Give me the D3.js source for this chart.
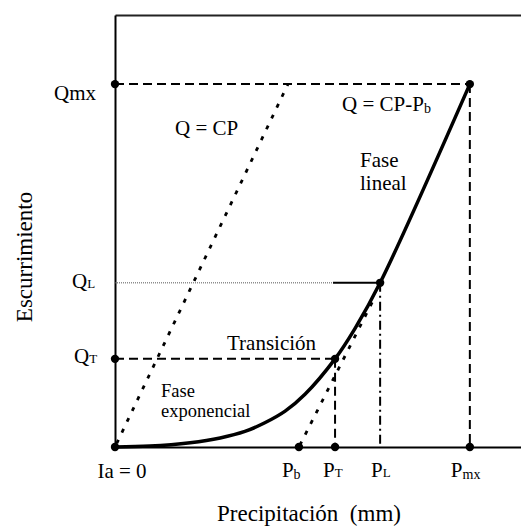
<!DOCTYPE html>
<html>
<head>
<meta charset="utf-8">
<script src="https://cdn.jsdelivr.net/npm/d3@7"></script>
<style>
body { margin: 0; background: #fff; }
svg text { font-family: "Liberation Serif", "Times New Roman", "DejaVu Serif", serif; fill: #000; }
</style>
</head>
<body>
<svg width="521" height="529" font-family="Liberation Serif, Times New Roman, DejaVu Serif, serif"></svg>
<script>
const svg = d3.select('svg');

// values in chart units: P (precipitation) on x, Q (runoff) on y
const pMain = ['P', 'P', 'P', 'P'];
const pSub = ['b', 'T', 'L', 'mx'];
const pValues = [45.3, 54.2, 65.3, 87.4];   // Pb, PT, PL, Pmx

const qMain = ['Q', 'Q', 'Qmx'];
const qSub = ['T', 'L', ''];
const qValues = [20.4, 38.0, 84.0];         // QT, QL, Qmx

const runoffCurve = [
    [0, 0], [8.6, 0.21], [18.5, 1.0], [25.9, 2.1], [32.0, 3.6],
    [36.9, 5.6], [41.9, 8.3], [46.8, 12.2], [54.2, 20.4],
    [59.1, 27.4], [65.3, 38.0], [87.4, 84.0]
];
const cpLine = [[0, 0], [42.6, 84.0]];          // Q = CP
const cpPbLine = [[45.3, 0], [64.0, 34.7]];      // Q = CP - Pb
const qlSolidFrom = 53.7;

const [Pb, PT, PL, Pmx] = pValues;
const [QT, QL, Qmx] = qValues;

const x = d3.scaleLinear().domain([0, 100]).range([115, 521]);
const y = d3.scaleLinear().domain([0, 100]).range([447, 15]);

// frame: left, bottom and top lines, no ticks
const frame = (g, w, col) => g.call(s => s.selectAll('.tick').remove())
    .call(s => s.select('.domain').attr('stroke', col).attr('stroke-width', w));

svg.append('g').attr('transform', `translate(0,${y(100)})`)
    .call(d3.axisTop(x).tickValues([]).tickSizeOuter(0))
    .call(g => frame(g, 2, '#222'));
svg.append('g').attr('transform', `translate(${x(0)},0)`)
    .call(d3.axisLeft(y).tickValues([]).tickSizeOuter(0))
    .call(g => frame(g, 2, '#000'));
svg.append('g').attr('transform', `translate(0,${y(0)})`)
    .call(d3.axisBottom(x).tickValues([]).tickSizeOuter(0))
    .call(g => frame(g, 2, '#000'));

const line = d3.line().x(d => x(d[0])).y(d => y(d[1]));

const seg = (pts, dash, w, col) => svg.append('path')
    .attr('d', line(pts))
    .attr('fill', 'none')
    .attr('stroke', col || '#000')
    .attr('stroke-width', w)
    .attr('stroke-dasharray', dash);

// guide lines
seg([[0, Qmx], [Pmx, Qmx]], '9,5', 2);
seg([[Pmx, Qmx], [Pmx, 0]], '9,5', 2);
seg([[0, QT], [PT, QT]], '9,5', 2);
seg([[PT, QT], [PT, 0]], '9,5', 2);
seg([[PL, QL], [PL, 0]], '9,4,2,4', 2);
seg([[0, QL], [qlSolidFrom, QL]], '1,1', 1, '#555');
seg([[qlSolidFrom, QL], [PL, QL]], null, 2);

// Q = CP and Q = CP - Pb
seg(cpLine, '4,8', 2.8).attr('stroke-dashoffset', -16);
seg(cpPbLine, '4,8', 2.8).attr('stroke-dashoffset', -14);

// runoff curve
const curveLine = d3.line().x(d => x(d[0])).y(d => y(d[1]))
    .curve(d3.curveCatmullRom.alpha(0.5));
svg.append('path')
    .attr('d', curveLine(runoffCurve))
    .attr('fill', 'none')
    .attr('stroke', '#000')
    .attr('stroke-width', 3.5)
    .attr('stroke-linejoin', 'round');

// points
const points = [
    [0, 0], [0, Qmx], [0, QT], [Pb, 0], [PT, 0], [PT, QT],
    [PL, QL], [Pmx, 0], [Pmx, Qmx]
];
svg.selectAll('circle.pt').data(points).join('circle')
    .attr('class', 'pt')
    .attr('cx', d => x(d[0]))
    .attr('cy', d => y(d[1]))
    .attr('r', 4.2)
    .attr('fill', '#000');

// labels with subscripts
function label(px, py, main, sub, size, subSize, subDy) {
    const t = svg.append('text').attr('x', px).attr('y', py)
        .attr('font-size', size);
    t.append('tspan').text(main);
    if (sub) t.append('tspan').attr('font-size', subSize).attr('dy', subDy).text(sub);
    return t;
}

const qOff = [[-41, 4], [-43, 5], [-61, 16]];
qValues.forEach((q, i) => {
    label(x(0) + qOff[i][0], y(q) + qOff[i][1], qMain[i], qSub[i], 21, 13, 0);
});

const pOff = [-17, -12, -9, -19];
const pDy = [2, 0, 0, 2];
pValues.forEach((p, i) => {
    label(x(p) + pOff[i], 477, pMain[i], pSub[i], 21, pSub[i] === 'b' || pSub[i] === 'mx' ? 14 : 13, pDy[i]);
});

svg.append('text').attr('x', x(0) + 7).attr('y', 478)
    .attr('text-anchor', 'middle').attr('font-size', 21).text('Ia = 0');

// annotations
svg.append('text').attr('x', 175).attr('y', 135).attr('font-size', 21).text('Q = CP');
label(342, 111, 'Q = CP-P', 'b', 21, 14, 2);
svg.append('text').attr('x', 360).attr('y', 167).attr('font-size', 21).text('Fase');
svg.append('text').attr('x', 360).attr('y', 190).attr('font-size', 21).text('lineal');
svg.append('text').attr('x', 227).attr('y', 350).attr('font-size', 21).text('Transición');
svg.append('text').attr('x', 161).attr('y', 397).attr('font-size', 18.5).text('Fase');
svg.append('text').attr('x', 161).attr('y', 417).attr('font-size', 18.5).text('exponencial');

// axis titles
svg.append('text')
    .attr('transform', 'translate(32,257) rotate(-90)')
    .attr('text-anchor', 'middle').attr('font-size', 23)
    .text('Escurrimiento');
svg.append('text')
    .attr('x', 309).attr('y', 521)
    .attr('text-anchor', 'middle').attr('font-size', 23)
    .style('white-space', 'pre')
    .text('Precipitación  (mm)');
</script>
</body>
</html>
